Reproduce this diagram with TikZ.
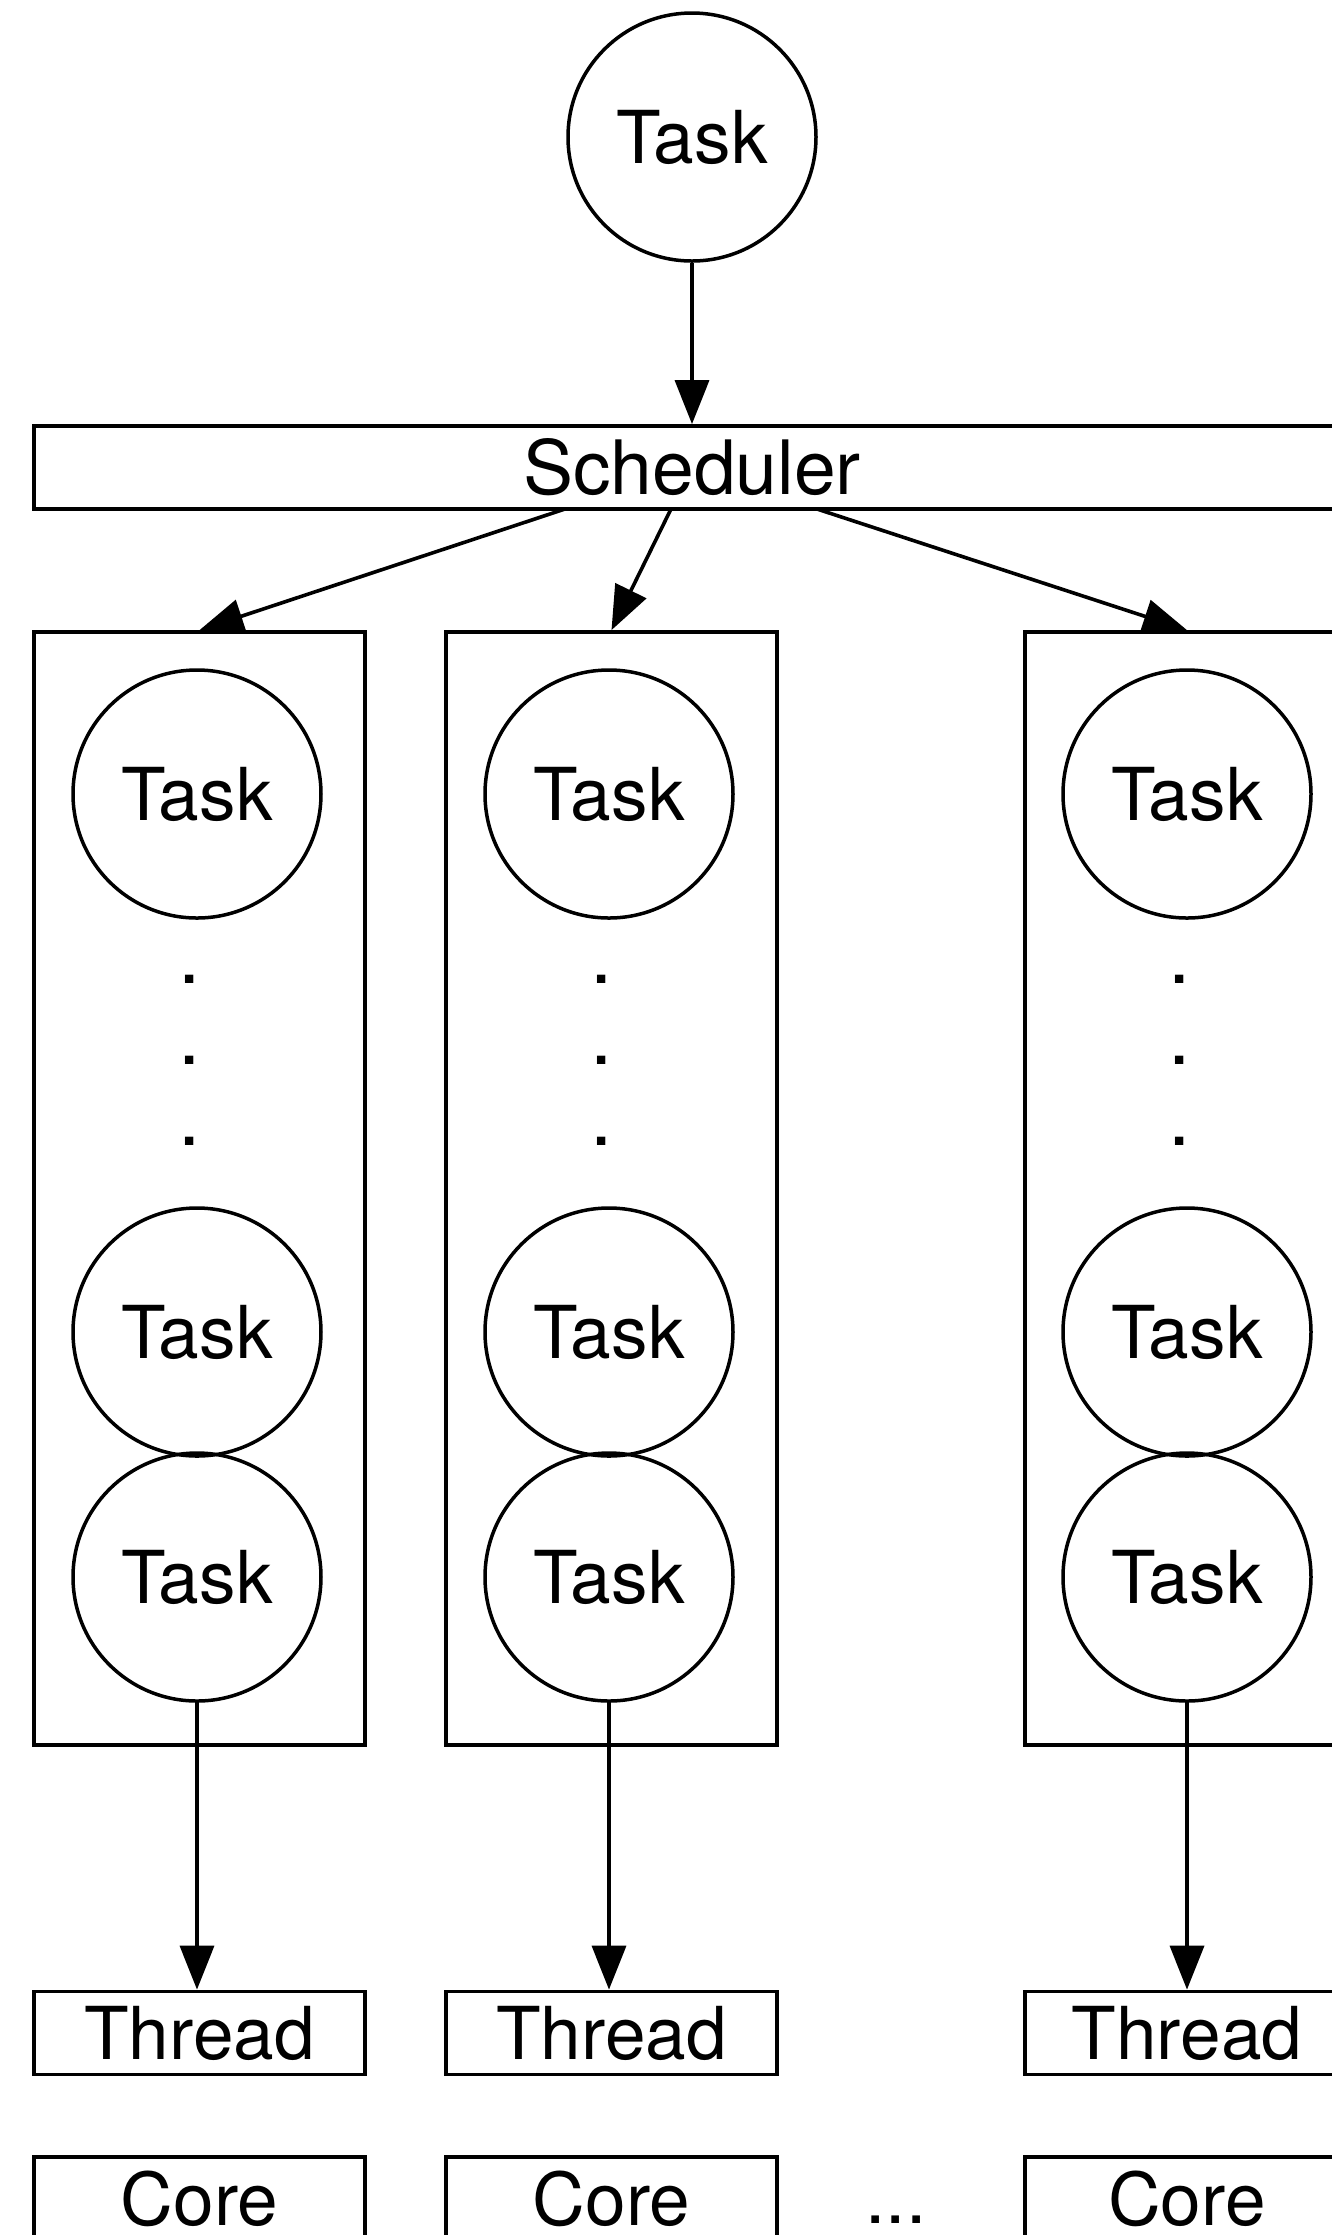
\documentclass[tikz,border=0pt]{standalone}
\usepackage{fontspec}
\setmainfont{TeX Gyre Heros}
\usetikzlibrary{arrows.meta}
\begin{document}
\begin{tikzpicture}[x=0.5pt,y=-0.5pt,
  font=\fontsize{36.5pt}{42pt}\selectfont,
  frame/.style={draw, line width=1.9pt, inner sep=0pt, minimum height=41.5pt},
  taskc/.style={circle, draw, line width=1.75pt, minimum size=124pt, inner sep=0pt},
  column/.style={draw, line width=1.9pt, inner sep=0pt, minimum height=556.5pt},
  dotmark/.style={inner sep=0pt, font=\fontsize{40pt}{42pt}\selectfont},
  arr/.style={-{Triangle[length=22pt,width=17pt]}, line width=1.8pt}]
\useasboundingbox (0,0) rectangle (1332,2235);

% incoming task and the scheduler
\node[taskc] (top) at (692,137) {Task};
\node[frame, minimum width=658pt, font=\fontsize{37.5pt}{42pt}\selectfont] (sched) at (692,467.5) {Scheduler};
\draw[arr] (top) -- (sched);

% per-thread task queues
\node[column, minimum width=165.5pt] (q1) at (199.5,1188.5) {};
\node[column, minimum width=165.5pt] (q2) at (611.5,1188.5) {};
\node[column, minimum width=162pt] (q3) at (1187,1188.5) {};

\coordinate (s1) at (565,509);
\coordinate (s2) at (671,509);
\coordinate (s3) at (817,509);
\draw[arr] (s1) -- (q1.north);
\draw[arr] (s2) -- (q2.north);
\draw[arr] (s3) -- (q3.north);

% queue contents
\foreach \i/\cx/\dx in {1/197/189.5, 2/609/602, 3/1187/1180}{
  \node[taskc] (a\i) at (\cx,794) {Task};
  \node[dotmark] (d\i a) at (\dx,979) {.};
  \node[dotmark] (d\i b) at (\dx,1060) {.};
  \node[dotmark] (d\i c) at (\dx,1141) {.};
  \node[taskc] (b\i) at (\cx,1332) {Task};
  \node[taskc] (c\i) at (\cx,1577) {Task};
}

% threads and cores
\node[frame, minimum width=165.5pt] (t1) at (199.5,2033) {Thread};
\node[frame, minimum width=165.5pt] (t2) at (611.5,2033) {Thread};
\node[frame, minimum width=162pt] (t3) at (1187,2033) {Thread};

\node[frame, minimum width=165.5pt] (k1) at (199.5,2198.5) {Core};
\node[frame, minimum width=165.5pt] (k2) at (611.5,2198.5) {Core};
\node[frame, minimum width=162pt] (k3) at (1187,2198.5) {Core};
\node[inner sep=0pt, anchor=base] (more) at (896,2223) {...};

\draw[arr] (c1.south) -- (c1.south |- t1.north);
\draw[arr] (c2.south) -- (c2.south |- t2.north);
\draw[arr] (c3.south) -- (c3.south |- t3.north);
\end{tikzpicture}
\end{document}
